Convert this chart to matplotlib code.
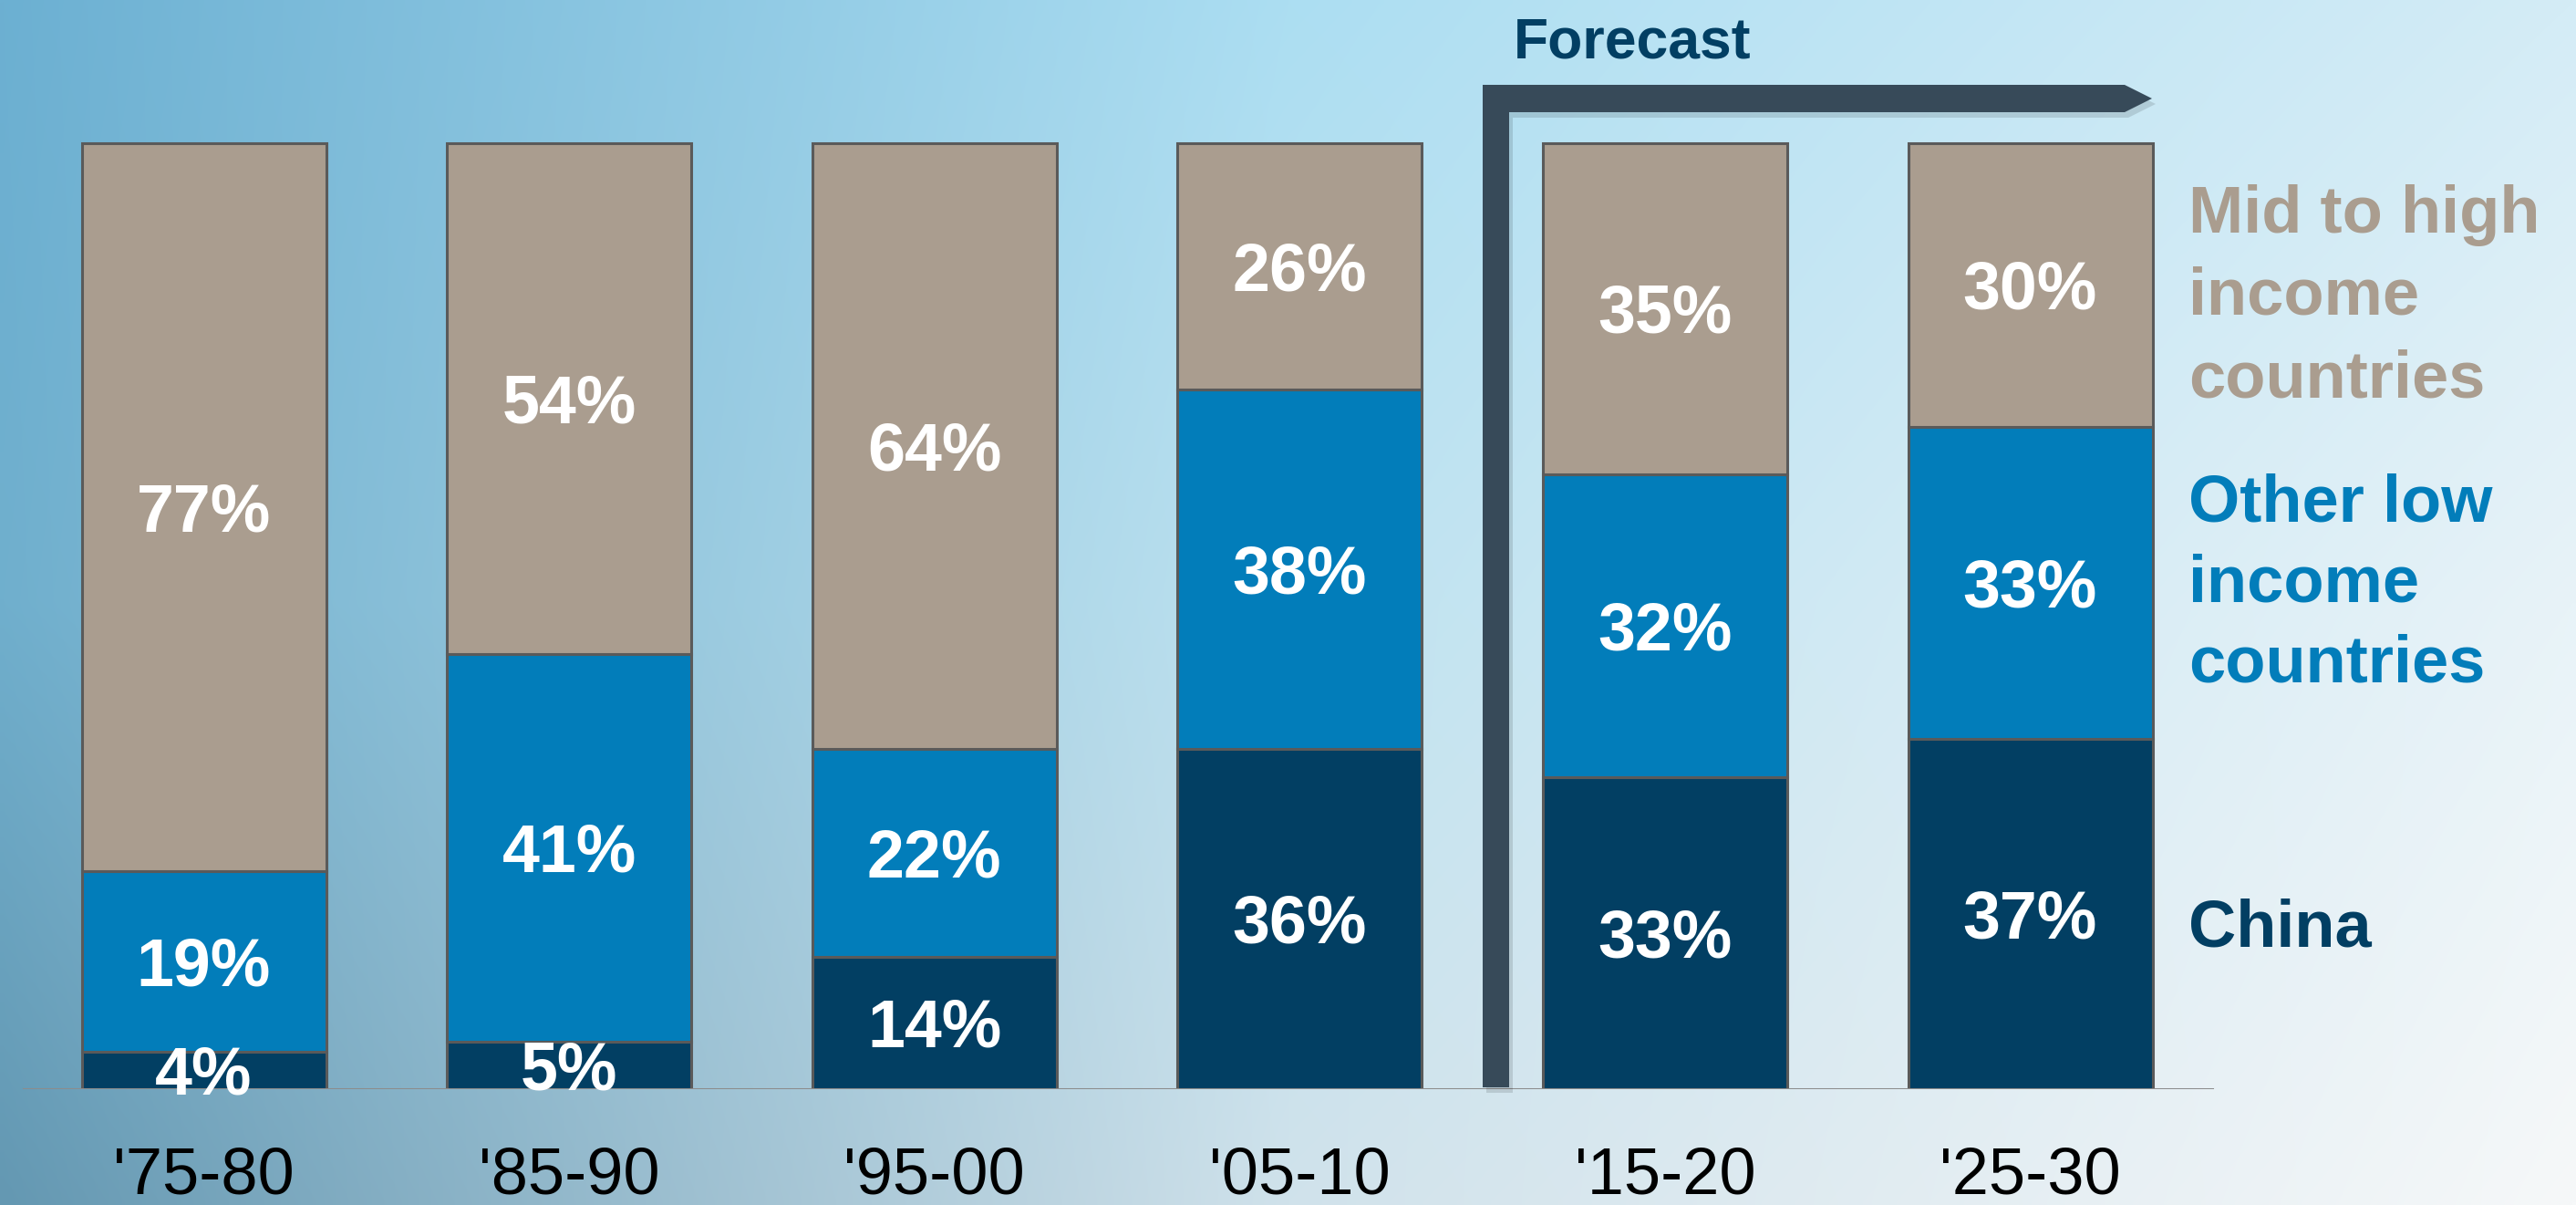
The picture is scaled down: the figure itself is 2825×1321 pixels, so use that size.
import numpy as np
import matplotlib
matplotlib.use('Agg')
import matplotlib.pyplot as plt
from matplotlib.patches import Polygon

periods = ["'75-80", "'85-90", "'95-00", "'05-10", "'15-20", "'25-30"]
china = [4, 5, 14, 36, 33, 37]
other_low = [19, 41, 22, 38, 32, 33]
mid_high = [77, 54, 64, 26, 35, 30]

colors = ['#023F63', '#027DBA', '#AA9D8F']

W, H = 2825, 1321
FONT = ['Liberation Sans', 'DejaVu Sans']
plt.rcParams['font.family'] = FONT


def fpos(px, py):
    # figure pixel (top-left origin) -> figure fraction
    return px / W, 1 - py / H


fig = plt.figure(figsize=(W / 100, H / 100), dpi=100)

# background gradient: blue on the left/top, fading to near white at bottom right
bg = fig.add_axes([0, 0, 1, 1])
xs = np.linspace(0, 1, 400)
ys = np.linspace(0, 1, 200)
knots = [0, 0.5, 1]
grid = np.array([
    [[108, 176, 210], [172, 222, 242], [212, 236, 246]],
    [[112, 175, 205], [190, 226, 240], [232, 243, 248]],
    [[100, 152, 178], [208, 226, 235], [246, 248, 249]],
]) / 255
rows = np.stack([np.stack([np.interp(xs, knots, grid[r, :, c]) for c in range(3)], axis=-1)
                 for r in range(3)])
grad = np.stack([np.stack([np.interp(ys, knots, rows[:, i, c]) for c in range(3)], axis=-1)
                 for i in range(len(xs))], axis=1)
bg.imshow(grad, aspect='auto', extent=[0, 1, 0, 1], interpolation='bilinear')
bg.set_axis_off()

# main axes: baseline at py=1194, 100% at py=157
base_py, top_py = 1194, 157
ppu = (base_py - top_py) / 100
ax = fig.add_axes([0, (H - base_py) / H, 1, (base_py - 60) / H])
ax.set_facecolor('none')
ax.set_xlim(-0.558, 6.494)
ax.set_ylim(0, (base_py - 60) / ppu)

x = np.arange(len(periods))
bottom = np.zeros(len(periods))
for vals, col in zip([china, other_low, mid_high], colors):
    vals = np.array(vals)
    ax.bar(x, vals, bottom=bottom, width=0.669, color=col,
           edgecolor='#5A5A5A', linewidth=2.2, zorder=3)
    for xi, b, v in zip(x, bottom, vals):
        # baseline shifted down by half the cap height so digits sit centred
        ax.annotate(f'{v}%', (xi, b + v / 2), xytext=(0, -19), textcoords='offset points',
                    ha='center', va='baseline', color='white', fontsize=53,
                    fontweight='bold', zorder=5)
    bottom = bottom + vals

ax.axhline(0, xmin=26 / W, xmax=2426 / W, color='#8C8C8C', lw=2.2, zorder=4)

ax.set_xticks(x, periods, fontsize=52, color='black')
ax.tick_params(axis='x', length=0, pad=45)
ax.set_yticks([])
for s in ax.spines.values():
    s.set_visible(False)

# series labels on the right
label_lines = {
    0: [('China', 1038)],
    1: [('Other low', 572), ('income', 660), ('countries', 748)],
    2: [('Mid to high', 255), ('income', 345), ('countries', 435)],
}
for k, lines in label_lines.items():
    for txt, py in lines:
        fig.text(*fpos(2400, py), txt, color=colors[k], fontsize=52,
                 fontweight='bold', ha='left', va='baseline')

# forecast bracket
pts = [(1626, 1192), (1626, 93), (2330, 93), (2360, 108),
       (2330, 123), (1655, 123), (1655, 1192)]
shadow = Polygon([fpos(px + 4, py + 6) for px, py in pts], closed=True,
                 transform=fig.transFigure, color='black', alpha=0.12, lw=0)
fig.add_artist(shadow)
bracket = Polygon([fpos(px, py) for px, py in pts], closed=True,
                  transform=fig.transFigure, color='#374A59', lw=0)
fig.add_artist(bracket)
fig.text(*fpos(1660, 63), 'Forecast', color='#023F63', fontsize=45,
         fontweight='bold', ha='left', va='baseline')

fig.savefig('out.png', dpi=100)
